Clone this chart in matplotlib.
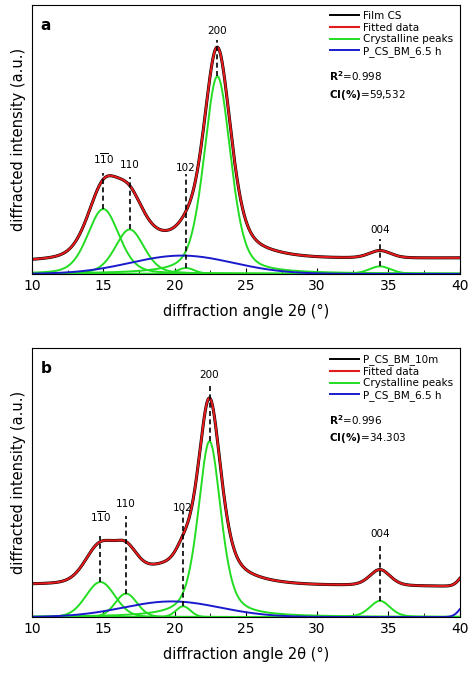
import numpy as np
import matplotlib
matplotlib.use("Agg")
import matplotlib.pyplot as plt
from matplotlib.ticker import MultipleLocator

# ---- panel a: fitted components (center, height, half-width, lorentz fraction)
a_cryst_center = [15.0, 16.85, 20.8, 23.0, 34.4]
a_cryst_height = [0.241, 0.165, 0.022, 0.734, 0.028]
a_cryst_width = [1.3, 1.2, 0.7, 1.1, 0.9]
a_cryst_eta = [0.3, 0.3, 0.3, 0.4, 0.3]
a_amorph = [20.5, 0.068, 3.6]   # center, height, sigma
a_baseline = [0.045, 0.058]     # at 10 and 40
a_labels = ["1$\\overline{1}$0", "110", "102", "200", "004"]
a_dash_top = [0.375, 0.36, 0.37, 0.87, 0.13]
a_label_y = [0.40, 0.385, 0.375, 0.885, 0.145]
a_legend = ["Film CS", "Fitted data", "Crystalline peaks", "P_CS_BM_6.5 h"]
a_stats = ["0.998", "59,532"]

# ---- panel b
b_cryst_center = [14.8, 16.6, 20.6, 22.45, 34.4]
b_cryst_height = [0.13, 0.087, 0.04, 0.653, 0.06]
b_cryst_width = [1.2, 0.9, 0.6, 0.95, 0.85]
b_cryst_eta = [0.1, 0.1, 0.1, 0.5, 0.3]
b_amorph = [19.8, 0.058, 3.4]
b_edge = [40.6, 0.06, 0.5]     # rising component at the right edge
b_baseline = [0.12, 0.113]
b_labels = ["1$\\overline{1}$0", "110", "102", "200", "004"]
b_dash_top = [0.30, 0.377, 0.393, 0.864, 0.275]
b_label_y = [0.345, 0.40, 0.385, 0.88, 0.29]
b_legend = ["P_CS_BM_10m", "Fitted data", "Crystalline peaks", "P_CS_BM_6.5 h"]
b_stats = ["0.996", "34.303"]

x = np.linspace(10, 40, 1500)


def pv(x, c, h, w, eta):
    lor = 1.0 / (1 + ((x - c) / w) ** 2)
    gau = np.exp(-np.log(2) * ((x - c) / w) ** 2)
    return h * (eta * lor + (1 - eta) * gau)


def gauss(x, c, h, s):
    return h * np.exp(-0.5 * ((x - c) / s) ** 2)


fig = plt.figure(figsize=(4.74, 6.83), dpi=100)
axa = fig.add_axes([0.0675, 0.599, 0.9025, 0.394])
axb = fig.add_axes([0.0675, 0.0966, 0.9025, 0.394])


def draw(ax, cc, ch, cw, ce, am, base, labels, dtop, ly, leg, stats, letter, edge=None):
    greens = [pv(x, c, h, w, e) for c, h, w, e in zip(cc, ch, cw, ce)]
    blue = gauss(x, *am)
    if edge is not None:
        blue = blue + gauss(x, *edge)
    bl = base[0] + (base[1] - base[0]) * (x - 10) / 30
    fit = sum(greens) + blue + bl
    ax.plot(x, fit, color="black", lw=2.2, label=leg[0])
    ax.plot(x, fit, color="#e41a1c", lw=1.5, label=leg[1])
    for i, g in enumerate(greens):
        ax.plot(x, g, color="#22dd22", lw=1.4, label=leg[2] if i == 0 else None)
    ax.plot(x, blue, color="#1a1acc", lw=1.4, label=leg[3])
    for c, h, t, y, lab in zip(cc, ch, dtop, ly, labels):
        ax.plot([c, c], [h, t], color="black", ls=(0, (3, 2)), lw=1.2)
        ax.text(c, y, lab, ha="center", va="bottom", fontsize=7.5)
    ax.set_xlim(10, 40)
    ax.set_ylim(0, 1)
    ax.set_yticks([])
    ax.xaxis.set_major_locator(MultipleLocator(5))
    ax.xaxis.set_minor_locator(MultipleLocator(2.5))
    ax.tick_params(axis="x", which="both", direction="in", top=False, labelsize=10)
    ax.tick_params(axis="x", which="major", length=4)
    ax.tick_params(axis="x", which="minor", length=3)
    ax.set_xlabel("diffraction angle 2θ (°)", fontsize=10.5, labelpad=8)
    ax.set_ylabel("diffracted intensity (a.u.)", fontsize=10.5, labelpad=4)
    ax.text(0.02, 0.95, letter, transform=ax.transAxes, fontsize=11, fontweight="bold", va="top")
    hs, ls = ax.get_legend_handles_labels()
    hs[0] = plt.Line2D([], [], color="black", lw=1.4)
    ax.legend(hs, ls, loc="upper right", frameon=False, fontsize=7.5, handlelength=2.8,
              borderaxespad=0.2, labelspacing=0.15, handletextpad=0.4)
    ax.text(0.695, 0.715, "$\\mathbf{R^2}$=" + stats[0], transform=ax.transAxes, fontsize=7.5)
    ax.text(0.695, 0.655, "$\\mathbf{CI(\\%)}$=" + stats[1], transform=ax.transAxes, fontsize=7.5)


draw(axa, a_cryst_center, a_cryst_height, a_cryst_width, a_cryst_eta, a_amorph, a_baseline,
     a_labels, a_dash_top, a_label_y, a_legend, a_stats, "a")
draw(axb, b_cryst_center, b_cryst_height, b_cryst_width, b_cryst_eta, b_amorph, b_baseline,
     b_labels, b_dash_top, b_label_y, b_legend, b_stats, "b", edge=b_edge)

fig.savefig("out.png", dpi=100)
